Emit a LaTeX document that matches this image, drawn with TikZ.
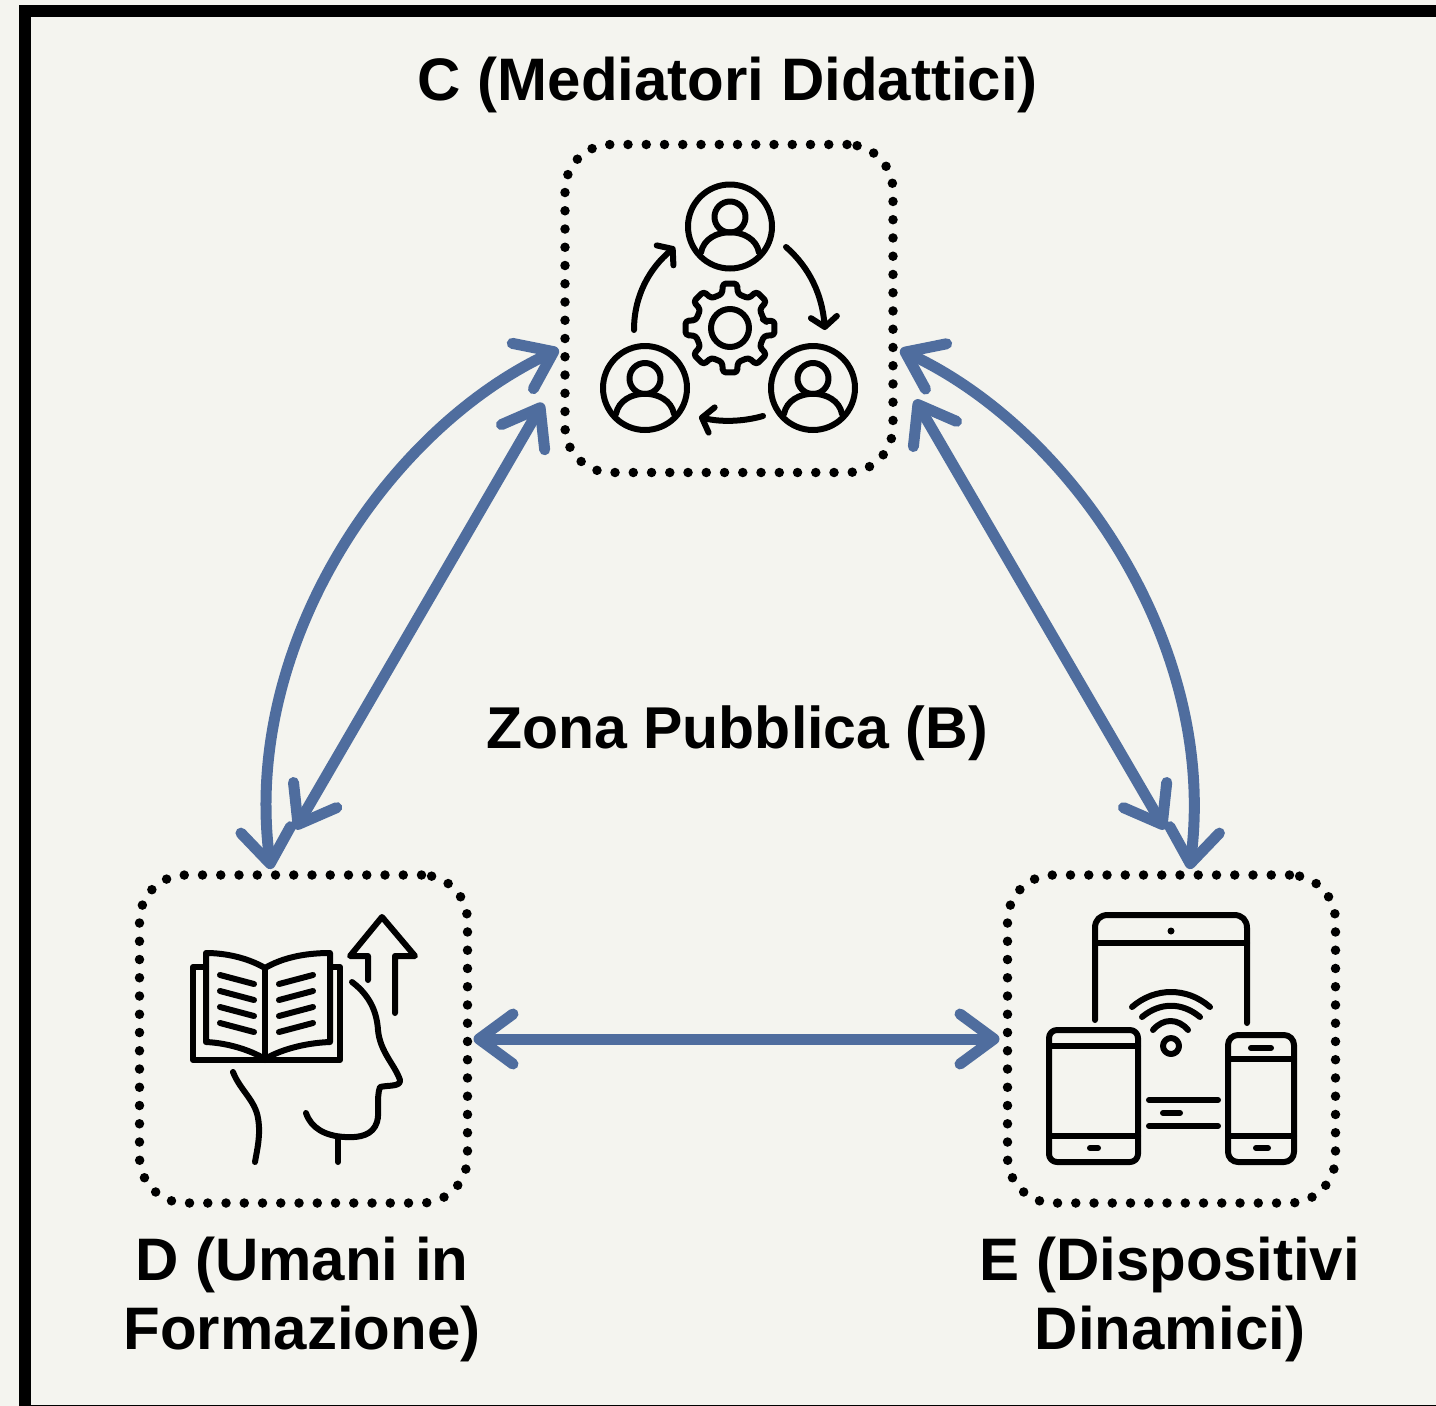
\documentclass[tikz,border=0pt]{standalone}
\usepackage{fontspec}
\setmainfont{Liberation Sans}
\usetikzlibrary{arrows.meta}
\definecolor{paper}{HTML}{F4F4EF}
\definecolor{linkblue}{HTML}{4F6D9E}
\tikzset{
  x=1pt,y=-1pt,
  frameline/.style={draw=black,line width=12pt,line cap=butt},
  boxnode/.style={draw=black,line width=9.5pt,line cap=round,dash pattern=on 0pt off 18.25pt,rounded corners=46pt,minimum width=328pt,minimum height=328pt,inner sep=0pt,outer sep=0pt},
  label/.style={font=\bfseries\fontsize{60}{69}\selectfont,text=black,align=center,inner sep=0pt},
  link/.style={draw=linkblue,line width=11pt,line cap=round,{Straight Barb[length=34pt,width=50pt,round]}-{Straight Barb[length=34pt,width=50pt,round]}},
  icon/.style={draw=black,line width=6pt,line cap=round,line join=round},
  iconhead/.style={icon,-{Straight Barb[length=10pt,width=26pt,round]}}
}
\newcommand{\personicon}[2]{%
  \begin{scope}[shift={(#1,#2)}]
    \draw[icon] (0,0) circle[radius=42];
    \draw[icon] (0,-9.5) circle[radius=15.5];
    \draw[icon] (-29,26) .. controls (-24,-1) and (24,-1) .. (29,26);
  \end{scope}}
\begin{document}
\begin{tikzpicture}
\useasboundingbox (0,0) rectangle (1436,1406);
\fill[paper] (0,0) rectangle (1436,1406);
\draw[frameline] (1440,10.5) -- (24.5,10.5) -- (24.5,1410.5) -- (1440,1410.5);

\node[boxnode] (C) at (729,308.5) {};
\node[boxnode] (D) at (303.5,1039) {};
\node[boxnode] (E) at (1171.5,1039) {};

\node[label] (labelC) at (728,85) {C (Mediatori Didattici)};
\node[label,font=\bfseries\fontsize{59}{69}\selectfont] (labelB) at (737,733) {Zona Pubblica (B)};
\node[label] (labelD) at (302,1299) {D (Umani in\\Formazione)};
\node[label] (labelE) at (1170,1299) {E (Dispositivi\\Dinamici)};

% connectors
\draw[link,shorten <=7pt,shorten >=6pt] (C.193.2) .. controls +(-178,83) and +(-30,-230) .. (D.101.6);
\draw[link,shorten <=44pt,shorten >=53pt] (C.199.2) -- (D.102);
\draw[link,shorten <=8pt,shorten >=6pt] (C.-13.2) .. controls +(178,83) and +(30,-230) .. (E.84.2);
\draw[link,shorten <=44pt,shorten >=53pt] (C.-18.1) -- (E.83);
\draw[link,shorten <=6pt,shorten >=8pt] (D.east) -- (E.west);

% C icon
\personicon{730}{226.5}
\personicon{645}{388}
\personicon{813}{388}
\begin{scope}[shift={(730,328)}]
  \draw[icon,rounded corners=3pt] (-11.25:36)
    \foreach \a in {0,45,...,315} {
      -- (\a-9:45) -- (\a+9:45) -- (\a+13:35) -- (\a+32:35)
    } -- cycle;
  \draw[icon] (0,0) circle[radius=19];
\end{scope}
\draw[iconhead] (634,330) .. controls (634,295) and (650,268) .. (675,247);
\draw[iconhead] (786,247) .. controls (810,268) and (822,295) .. (825,330);
\draw[iconhead] (763,416) .. controls (742,422) and (720,422) .. (699,417);

% D icon
\draw[icon] (206,967) -- (193,967) -- (193,1060) -- (340,1060) -- (340,967) -- (330,967);
\draw[icon] (265,968) .. controls (248,958) and (226,953) .. (206,953) -- (206,1042) .. controls (228,1043) and (250,1050) .. (265,1059);
\draw[icon] (265,968) .. controls (282,958) and (304,953) .. (330,953) -- (330,1042) .. controls (304,1043) and (280,1050) .. (265,1059);
\draw[icon] (265,968) -- (265,1060);
\foreach \i/\d in {0/0,1/16,2/32,3/48}{
  \draw[icon] (220,975+\d) -- (254,984+\d);
  \draw[icon] (313,975+\d) -- (279,984+\d);
}
\draw[icon] (368,980) -- (368,956) -- (350,956) -- (382,917) -- (415,956) -- (395,956) -- (395,1013);
\draw[icon] (352,982) .. controls (372,997) and (377,1015) .. (378,1030) .. controls (380,1052) and (395,1065) .. (400,1080) .. controls (401,1087) and (388,1085) .. (380,1087) .. controls (376,1098) and (380,1112) .. (377,1122) .. controls (373,1135) and (360,1138) .. (345,1137) .. controls (325,1136) and (311,1128) .. (306,1113);
\draw[icon] (338,1137) -- (338,1162);
\draw[icon] (233,1072) .. controls (240,1090) and (255,1100) .. (258,1118) .. controls (261,1135) and (257,1150) .. (255,1162);

% E icon
\draw[icon] (1095,1020) -- (1095,928) .. controls (1095,920) and (1100,915) .. (1108,915) -- (1234,915) .. controls (1242,915) and (1247,920) .. (1247,928) -- (1247,1023);
\draw[icon] (1095,943) -- (1247,943);
\fill[black] (1171,931) circle[radius=3.5];
\draw[icon] (1132,1007) .. controls (1155,987) and (1187,987) .. (1210,1007);
\draw[icon] (1142,1017) .. controls (1160,1002) and (1182,1002) .. (1200,1017);
\draw[icon] (1153,1030) .. controls (1163,1018) and (1178,1018) .. (1188,1030);
\draw[icon] (1171,1046) circle[radius=8];
\draw[icon,rounded corners=8pt] (1049,1030) rectangle (1138,1162);
\draw[icon] (1049,1046) -- (1138,1046);
\draw[icon] (1049,1136) -- (1138,1136);
\draw[icon] (1090,1148) -- (1098,1148);
\draw[icon,rounded corners=10pt] (1228,1035) rectangle (1294,1162);
\draw[icon] (1228,1059) -- (1294,1059);
\draw[icon] (1228,1136) -- (1294,1136);
\draw[icon] (1251,1048) -- (1271,1048);
\draw[icon] (1256,1148) -- (1268,1148);
\draw[icon] (1149,1100) -- (1218,1100);
\draw[icon] (1149,1126) -- (1218,1126);
\draw[icon] (1163,1113) -- (1180,1113);
\end{tikzpicture}
\end{document}
